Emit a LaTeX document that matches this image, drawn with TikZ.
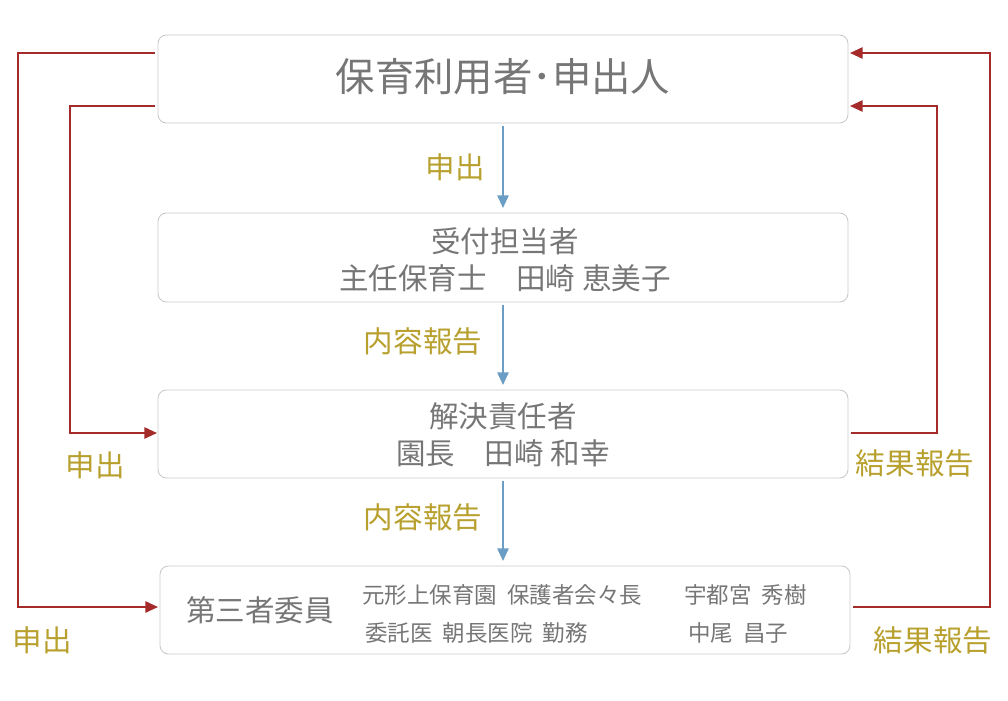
\documentclass[tikz,border=0pt]{standalone}
\usepackage{fontspec}
\setmainfont{Noto Sans CJK JP}
\usetikzlibrary{arrows.meta,positioning}
\definecolor{boxgray}{HTML}{C8C8C8}
\definecolor{txtgray}{HTML}{767676}
\definecolor{gold}{HTML}{B8A02E}
\definecolor{flowblue}{HTML}{6A9EC4}
\definecolor{backred}{HTML}{A52A2A}
\tikzset{
  box/.style={draw=boxgray,rounded corners=6pt,line width=0.6pt},
  txt/.style={text=txtgray,font=\fontsize{21}{26}\selectfont,align=center,inner sep=0pt},
  small/.style={text=txtgray,font=\fontsize{16}{19}\selectfont,inner sep=0pt,anchor=west},
  lbl/.style={text=gold,font=\fontsize{21}{26}\selectfont,inner sep=0pt},
  down/.style={draw=flowblue,line width=1.4pt,-{Triangle[length=9pt,width=8pt]}},
  back/.style={draw=backred,line width=1.4pt,-{Triangle[length=9pt,width=8pt]}}
}
\begin{document}
\begin{tikzpicture}[x=0.025cm,y=-0.025cm]
\useasboundingbox (0,0) rectangle (1008,700);
% boxes
\draw[box] (158,35) rectangle (848,123);
\draw[box] (158,213) rectangle (848,302);
\draw[box] (158,390) rectangle (848,478);
\draw[box] (160,566) rectangle (850,654);
\coordinate (b1l1) at (155,53);
\coordinate (b1l2) at (155,106);
\coordinate (b1r1) at (850,53);
\coordinate (b1r2) at (850,106);
\coordinate (b3l) at (157,433);
\coordinate (b3r) at (851,433);
\coordinate (b4l) at (158,607);
\coordinate (b4r) at (853,607);
% texts
\node[txt,font=\fontsize{28}{32}\selectfont] (user) at (503,77) {保育利用者･申出人};
\node[txt] (recv) at (505,260) {受付担当者\\主任保育士\quad 田崎 恵美子};
\node[txt] (resp) at (503,435) {解決責任者\\園長\quad 田崎 和幸};
\node[txt] (third) at (260,610) {第三者委員};
\node[small] (t1) at (362,595) {元形上保育園\ \ 保護者会々長};
\node[small] (t2) at (684,595) {宇都宮\ \ 秀樹};
\node[small] (t3) at (365,633) {委託医\ \ 朝長医院\ \ 勤務};
\node[small] (t4) at (688,633) {中尾\ \ 昌子};
% flow down
\coordinate (a1) at (503,126); \coordinate (a2) at (503,208);
\coordinate (a3) at (503,305); \coordinate (a4) at (503,385);
\coordinate (a5) at (503,481); \coordinate (a6) at (503,561);
\draw[down] (a1) -- (a2);
\draw[down] (a3) -- (a4);
\draw[down] (a5) -- (a6);
\node[lbl] (l1) at (455,167) {申出};
\node[lbl] (l2) at (423,341) {内容報告};
\node[lbl] (l3) at (423,517) {内容報告};
% side loops
\draw[back] (b1l1) -- (18,53) -- (18,607) -- (b4l);
\draw[back] (b1l2) -- (70,106) -- (70,433) -- (b3l);
\draw[back] (b3r) -- (937,433) -- (937,106) -- (b1r2);
\draw[back] (b4r) -- (990,607) -- (990,53) -- (b1r1);
\node[lbl] (l4) at (95,465) {申出};
\node[lbl] (l5) at (42,640) {申出};
\node[lbl] (l6) at (915,463) {結果報告};
\node[lbl] (l7) at (933,640) {結果報告};
\end{tikzpicture}
\end{document}
